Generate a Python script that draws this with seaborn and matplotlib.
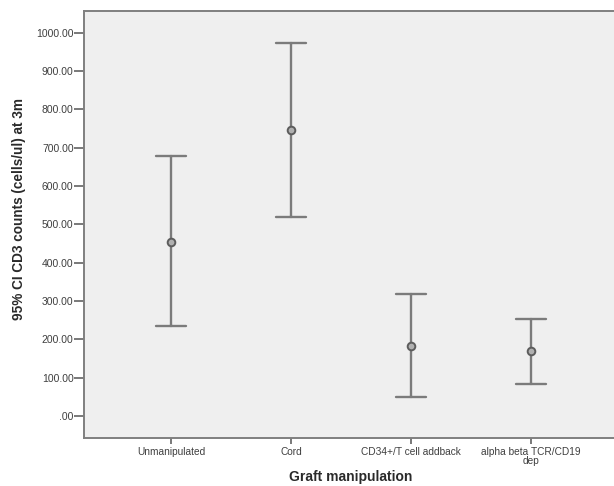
import matplotlib
matplotlib.use("Agg")
import matplotlib.pyplot as plt
import seaborn as sns
import pandas as pd

# 95% confidence intervals of CD3 counts (cells/ul) at 3 months, by graft type
groups = ["Unmanipulated", "Cord", "CD34+/T cell addback", "alpha beta TCR/CD19\ndep"]
ci_lower = [236, 519, 50, 84]
means = [455, 746, 183, 169]
ci_upper = [678, 972, 318, 253]
y_ticks = [0, 100, 200, 300, 400, 500, 600, 700, 800, 900, 1000]
y_tick_labels = [".00", "100.00", "200.00", "300.00", "400.00", "500.00",
                 "600.00", "700.00", "800.00", "900.00", "1000.00"]

sns.set_theme(style="white")
plt.rcParams["font.family"] = ["Liberation Sans", "DejaVu Sans"]

# Long-form table: lower bound, mean and upper bound for each group.
# The median of the three is the mean; the 100% percentile interval spans the CI.
df = pd.DataFrame({
    "group": groups * 3,
    "value": ci_lower + means + ci_upper,
})

fig = plt.figure(figsize=(6.14, 4.86), dpi=100)
ax = fig.add_axes([84 / 614, 1 - 437.5 / 486, (618 - 84) / 614, (437.5 - 11) / 486])
ax.set_facecolor("#efefef")

sns.pointplot(
    data=df, x="group", y="value", order=groups,
    estimator="median", errorbar=("pi", 100),
    capsize=0.25, color="#7b7b7b",
    linestyle="none", marker="o", markersize=5.5,
    markeredgewidth=1.4, markerfacecolor="#b0b0b0", markeredgecolor="#5c5c5c",
    err_kws={"color": "#7b7b7b", "linewidth": 1.7},
    ax=ax,
)

# keep the mean markers above the interval lines
for ln in ax.lines:
    if ln.get_marker() not in (None, "None", "none", ""):
        ln.set_zorder(5)

ax.set_xlim(-0.725, 3.725)
ax.set_ylim(-56, 1056.5)
ax.set_yticks(y_ticks)
ax.set_yticklabels(y_tick_labels)

for side in ("left", "bottom", "top"):
    ax.spines[side].set_visible(True)
    ax.spines[side].set_color("#7f7f7f")
    ax.spines[side].set_linewidth(1.4)
ax.spines["right"].set_visible(False)

ax.tick_params(axis="y", which="major", left=True, length=7, width=1.1,
               color="#555555", labelcolor="#3f3f3f", labelsize=7.5, pad=0.5)
ax.tick_params(axis="x", which="major", bottom=True, length=4, width=1.1,
               color="#555555", labelcolor="#3f3f3f", labelsize=7.3, pad=3)
for lbl in ax.get_xticklabels():
    lbl.set_linespacing(0.9)

ax.set_xlabel("Graft manipulation", fontsize=10, fontweight="bold",
              color="#2a2a2a", labelpad=2.5)
ax.set_ylabel("95% CI CD3 counts (cells/ul) at 3m", fontsize=9.8,
              fontweight="bold", color="#2a2a2a")
ax.yaxis.set_label_coords(-0.1086, 0.536)

fig.savefig("out.png", dpi=100)
